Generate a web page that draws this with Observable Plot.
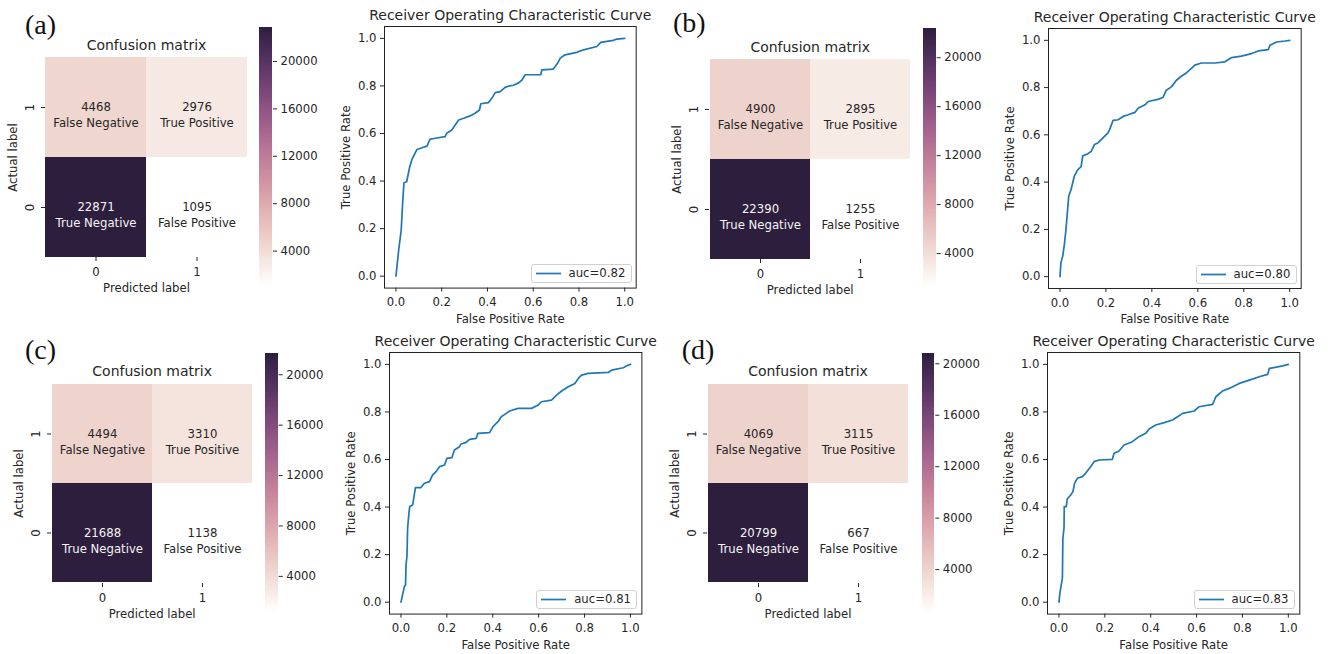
<!DOCTYPE html>
<html><head><meta charset="utf-8">
<script src="https://cdn.jsdelivr.net/npm/d3@7"></script>
<script src="https://cdn.jsdelivr.net/npm/@observablehq/plot@0.6"></script>
<style>
body{margin:0;background:#fff;}
#root{position:relative;width:1330px;height:654px;overflow:hidden;font-family:"DejaVu Sans",sans-serif;}
#root svg{position:absolute;overflow:visible;}
.letter{position:absolute;font-family:"Liberation Serif","Times New Roman",serif;font-size:28px;color:#111;line-height:1;}
.legend{position:absolute;box-sizing:border-box;border:1px solid #d0d0d0;border-radius:3px;background:#fff;font-family:"DejaVu Sans",sans-serif;font-size:11.7px;color:#262626;}
.legend svg{position:absolute;left:3px;top:0;}
.legend span{position:absolute;left:37px;top:50%;transform:translateY(-50%);white-space:nowrap;}
</style></head><body><div id="root"></div>
<script>
// ---------- data ----------
const panelLabels = ["(a)", "(b)", "(c)", "(d)"];
const cellActual = ["1", "1", "0", "0"];
const cellPredicted = ["0", "1", "0", "1"];
const cellNames = ["False Negative", "True Positive", "True Negative", "False Positive"];
const cmA = [4468, 2976, 22871, 1095];
const cmB = [4900, 2895, 22390, 1255];
const cmC = [4494, 3310, 21688, 1138];
const cmD = [4069, 3115, 20799, 667];
const colorbarTicks = [4000, 8000, 12000, 16000, 20000];
const rocTicks = [0, 0.2, 0.4, 0.6, 0.8, 1.0];
const aucLabels = ["auc=0.82", "auc=0.80", "auc=0.81", "auc=0.83"];

const fprA = [0,.012,.023,.03,.035,.047,.06,.07,.092,.114,.136,.148,.172,.215,.222,.244,.259,.274,.296,.324,.346,.365,.371,.404,.419,.434,.456,.477,.492,.514,.536,.55,.565,.633,.638,.688,.707,.718,.739,.79,.82,.878,.895,.95,.965,1];
const tprA = [0,.11,.194,.32,.393,.397,.459,.491,.533,.54,.547,.575,.58,.587,.601,.615,.636,.657,.664,.674,.685,.699,.725,.73,.748,.772,.776,.794,.799,.803,.813,.824,.847,.847,.868,.871,.896,.917,.931,.941,.952,.966,.983,.992,.997,1];
const fprB = [0,.004,.012,.019,.026,.038,.048,.062,.077,.092,.099,.121,.136,.15,.165,.187,.209,.216,.231,.253,.275,.297,.326,.34,.37,.384,.426,.448,.463,.485,.507,.528,.55,.572,.587,.616,.674,.718,.747,.79,.834,.863,.907,.914,.943,.98,1];
const tprB = [0,.059,.087,.136,.199,.34,.368,.424,.452,.466,.511,.52,.53,.559,.566,.587,.608,.622,.661,.664,.678,.685,.695,.713,.727,.741,.75,.758,.789,.803,.831,.848,.862,.881,.895,.904,.904,.909,.927,.933,.944,.955,.961,.979,.993,.997,1];
const fprC = [0,.007,.015,.02,.022,.026,.029,.034,.038,.051,.058,.063,.087,.102,.124,.138,.153,.168,.19,.2,.222,.233,.255,.262,.284,.299,.328,.335,.386,.401,.423,.437,.459,.474,.51,.569,.598,.612,.656,.678,.7,.729,.758,.773,.787,.816,.904,.918,.969,.984,1];
const tprC = [0,.031,.066,.073,.157,.192,.311,.367,.402,.409,.451,.482,.482,.5,.507,.535,.549,.57,.577,.605,.608,.64,.654,.665,.672,.685,.689,.71,.713,.738,.759,.78,.794,.804,.815,.815,.829,.843,.85,.871,.888,.906,.92,.941,.955,.962,.966,.976,.986,.994,1];
const fprD = [0,.004,.01,.015,.016,.017,.022,.023,.032,.036,.051,.061,.068,.08,.102,.116,.138,.153,.175,.233,.24,.262,.284,.32,.349,.378,.393,.422,.459,.495,.517,.539,.59,.611,.67,.684,.713,.742,.786,.83,.873,.91,.917,.975,1];
const tprD = [0,.038,.073,.101,.185,.269,.311,.402,.402,.434,.451,.465,.5,.521,.528,.542,.57,.591,.598,.601,.626,.636,.661,.675,.696,.71,.728,.745,.755,.766,.78,.794,.804,.822,.832,.864,.888,.899,.92,.934,.948,.958,.983,.994,1];

// ---------- layout (pixel frames of each sub-plot) ----------
const layout = [
  {cells:[45,247,57,257], cbar:[259,272,27,285], roc:[384.3,636,25.7,287.3], letter:[25,11]},
  {cells:[709.3,910.7,59,259], cbar:[923.3,936,28.3,287], roc:[1048.3,1301,28.3,288.3], letter:[673,9]},
  {cells:[51,252.3,383.3,583.3], cbar:[265,277.7,352.7,611.7], roc:[389.3,641.7,351.7,613.3], letter:[25,336]},
  {cells:[707.3,908.3,383.3,583.3], cbar:[921.7,934,352.7,611.7], roc:[1046.7,1299,351.7,613.3], letter:[681.7,336]}
];
const matrices = [cmA, cmB, cmC, cmD];
const rocs = [[fprA,tprA],[fprB,tprB],[fprC,tprC],[fprD,tprD]];

const TEXT = "#262626";
const FS = 11.7;
const baseStyle = {fontFamily: '"DejaVu Sans", sans-serif', fontSize: FS + "px", color: TEXT, background: "transparent", overflow: "visible"};
const centered = {textAnchor: "middle", lineAnchor: "middle"};

// seaborn cubehelix_palette(light=1, as_cmap=True)
function cubehelixSeaborn(t) {
  const light = 1, dark = 0.15, start = 0, rot = 0.4, gamma = 1, hue = 0.8;
  const x = light + (dark - light) * t;
  const xg = Math.pow(x, gamma);
  const a = hue * xg * (1 - xg) / 2;
  const phi = 2 * Math.PI * (start / 3 + rot * x);
  const f = (p0, p1) => Math.max(0, Math.min(1, xg + a * (p0 * Math.cos(phi) + p1 * Math.sin(phi))));
  const r = f(-0.14861, 1.78277), g = f(-0.29227, -0.90649), b = f(1.97294, 0);
  return `rgb(${Math.round(r*255)},${Math.round(g*255)},${Math.round(b*255)})`;
}

const root = document.getElementById("root");
function place(el, left, top) { el.style.left = left + "px"; el.style.top = top + "px"; root.appendChild(el); }

function confusion(values, L) {
  const [x1, x2, y1, y2] = L.cells;
  const ML = 48, MT = 60, MR = 4, MB = 46;
  const data = values.map((v, i) => ({actual: cellActual[i], predicted: cellPredicted[i], name: cellNames[i], value: v}));
  const min = d3.min(values), max = d3.max(values), mid = (min + max) / 2;
  const colorOpts = {type: "linear", domain: [min, max], interpolate: cubehelixSeaborn};
  const chart = Plot.plot({
    width: ML + (x2 - x1) + MR, height: MT + (y2 - y1) + MB,
    marginLeft: ML, marginRight: MR, marginTop: MT, marginBottom: MB,
    style: baseStyle,
    x: {type: "band", domain: ["0", "1"], padding: 0, label: null},
    y: {type: "band", domain: ["1", "0"], padding: 0, label: null},
    color: colorOpts,
    marks: [
      Plot.cell(data, {x: "predicted", y: "actual", fill: "value", inset: 0}),
      Plot.text(data, {x: "predicted", y: "actual", text: d => String(d.value), fontSize: FS, fill: d => d.value > mid ? "#f4f4f4" : TEXT}),
      Plot.text(data, {x: "predicted", y: "actual", text: "name", dy: 16, fontSize: FS, fill: d => d.value > mid ? "#f4f4f4" : TEXT}),
      Plot.axisX({tickSize: 4, tickPadding: 6, fontSize: FS, label: null}),
      Plot.axisY({tickSize: 4, tickFormat: () => "", label: null}),
      Plot.text(["1", "0"], {y: d => d, text: d => d, frameAnchor: "left", dx: -15, rotate: -90, fontSize: FS, ...centered}),
      Plot.text(["Actual label"], {text: d => d, frameAnchor: "left", dx: -32, rotate: -90, fontSize: FS, ...centered}),
      Plot.text(["Predicted label"], {text: d => d, frameAnchor: "bottom", dy: 30.5, fontSize: FS, ...centered}),
      Plot.text(["Confusion matrix"], {text: d => d, frameAnchor: "top", dy: -12.3, fontSize: 14, ...centered})
    ]
  });
  place(chart, x1 - ML, y1 - MT);

  // colorbar
  const [bx1, bx2, by1, by2] = L.cbar;
  const n = 200, step = (max - min) / n;
  const slices = d3.range(n).map(i => min + i * step);
  const cb = Plot.plot({
    width: (bx2 - bx1) + 50, height: (by2 - by1) + 10,
    marginLeft: 0, marginRight: 50, marginTop: 0, marginBottom: 10,
    style: baseStyle,
    x: {domain: [0, 1], axis: null},
    y: {domain: [min, max], axis: null},
    color: colorOpts,
    marks: [
      Plot.rect(slices, {x1: 0, x2: 1, y1: d => d, y2: d => Math.min(max, d + step * 1.5), fill: d => d + step / 2, shapeRendering: "crispEdges"}),
      Plot.axisY(colorbarTicks, {anchor: "right", tickSize: 4, tickPadding: 4, tickFormat: d3.format("d"), fontSize: FS, label: null})
    ]
  });
  place(cb, bx1, by1);
}

function roc(fpr, tpr, auc, L) {
  const [x1, x2, y1, y2] = L.roc;
  const ML = 60, MT = 30, MR = 20, MB = 44;
  const data = fpr.map((f, i) => ({fpr: f, tpr: tpr[i]}));
  const fmt = d3.format(".1f");
  const chart = Plot.plot({
    width: ML + (x2 - x1) + MR, height: MT + (y2 - y1) + MB,
    marginLeft: ML, marginRight: MR, marginTop: MT, marginBottom: MB,
    style: baseStyle,
    x: {domain: [-0.05, 1.05], label: null},
    y: {domain: [-0.05, 1.05], label: null},
    marks: [
      Plot.line(data, {x: "fpr", y: "tpr", stroke: "#1f77b4", strokeWidth: 1.7}),
      Plot.frame({stroke: "#222", strokeWidth: 1}),
      Plot.axisX(rocTicks, {tickSize: 4, tickPadding: 6, tickFormat: fmt, fontSize: FS, label: null}),
      Plot.axisY(rocTicks, {tickSize: 4, tickPadding: 4, tickFormat: fmt, fontSize: FS, label: null}),
      Plot.text(["Receiver Operating Characteristic Curve"], {text: d => d, frameAnchor: "top", dy: -11.3, fontSize: 14, ...centered}),
      Plot.text(["False Positive Rate"], {text: d => d, frameAnchor: "bottom", dy: 30.8, fontSize: FS, ...centered}),
      Plot.text(["True Positive Rate"], {text: d => d, frameAnchor: "left", dx: -38, rotate: -90, fontSize: FS, ...centered})
    ]
  });
  place(chart, x1 - ML, y1 - MT);

  // legend (bottom-right inside the frame)
  const lg = document.createElement("div");
  lg.className = "legend";
  const w = 101, h = 19;
  lg.style.width = w + "px"; lg.style.height = h + "px";
  lg.innerHTML = `<svg width="30" height="${h-2}"><line x1="1" x2="26" y1="${(h-2)/2}" y2="${(h-2)/2}" stroke="#1f77b4" stroke-width="1.7"/></svg><span>${auc}</span>`;
  place(lg, x2 - 4.5 - w, y2 - 4.5 - h);
}

layout.forEach((L, i) => {
  confusion(matrices[i], L);
  roc(rocs[i][0], rocs[i][1], aucLabels[i], L);
  const t = document.createElement("div");
  t.className = "letter";
  t.textContent = panelLabels[i];
  place(t, L.letter[0], L.letter[1]);
});
</script>
</body></html>
